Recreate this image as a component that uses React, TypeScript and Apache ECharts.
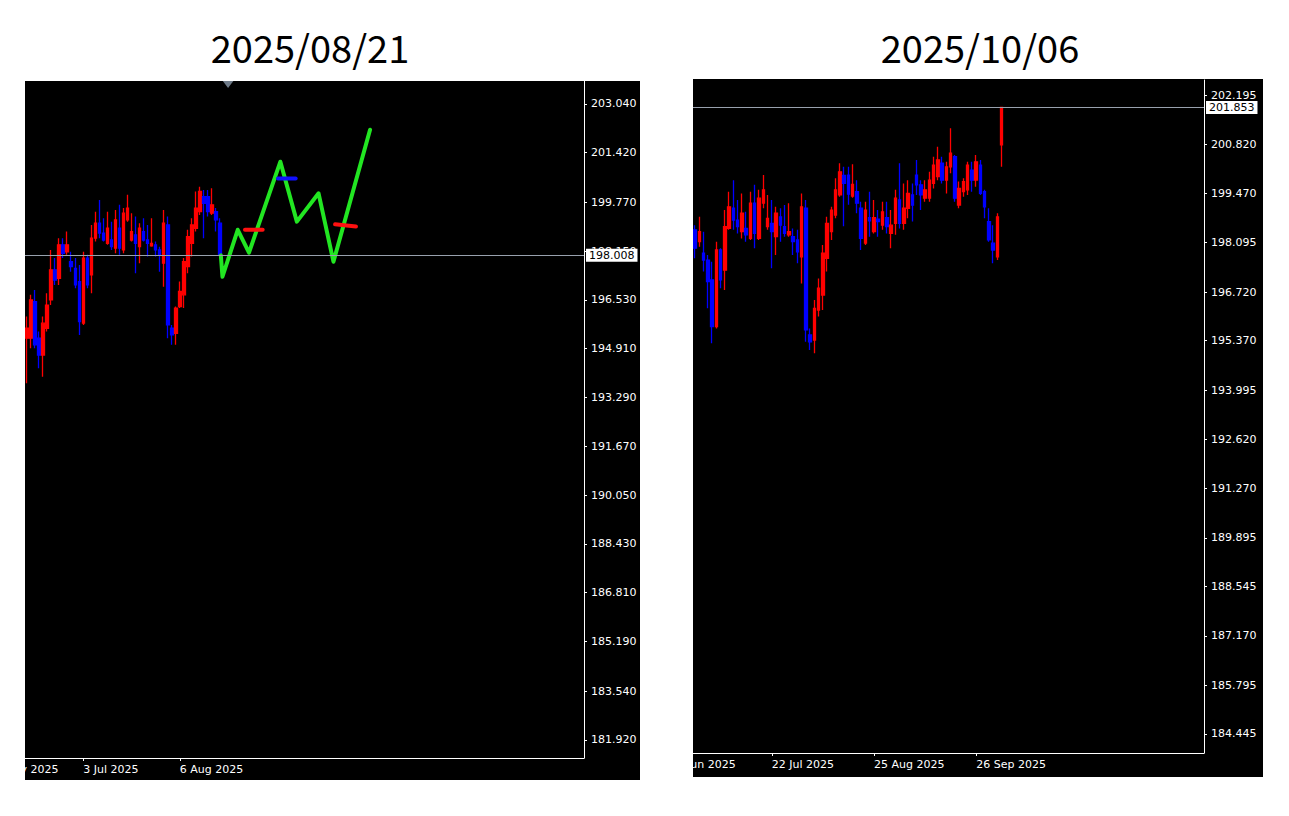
import React, { useEffect, useRef } from "react";
import * as echarts from "echarts";

// ---------------- DATA ----------------
const leftTitle = "2025/08/21";
const rightTitle = "2025/10/06";

const leftDates = [
  "2025-06-13","2025-06-16","2025-06-17","2025-06-18","2025-06-19","2025-06-20","2025-06-23","2025-06-24",
  "2025-06-25","2025-06-26","2025-06-27","2025-06-30","2025-07-01","2025-07-02","2025-07-03","2025-07-04",
  "2025-07-07","2025-07-08","2025-07-09","2025-07-10","2025-07-11","2025-07-14","2025-07-15","2025-07-16",
  "2025-07-17","2025-07-18","2025-07-21","2025-07-22","2025-07-23","2025-07-24","2025-07-25","2025-07-28",
  "2025-07-29","2025-07-30","2025-07-31","2025-08-01","2025-08-04","2025-08-05","2025-08-06","2025-08-07",
  "2025-08-08","2025-08-11","2025-08-12","2025-08-13","2025-08-14","2025-08-15","2025-08-18","2025-08-19",
  "2025-08-20",
];

// [open, close, low, high]
const leftOHLC = [
  [195.26,195.59,193.76,195.98],[195.26,196.53,194.93,196.70],[196.47,195.04,194.93,196.86],[195.26,194.70,194.26,195.48],
  [194.70,195.76,193.98,195.98],[195.59,196.36,195.48,196.75],[196.53,197.53,196.36,198.19],[197.53,197.19,197.03,197.92],
  [197.25,198.36,197.03,198.58],[198.36,198.08,197.92,198.58],[198.13,198.36,198.03,198.80],[197.80,197.64,197.47,198.13],
  [197.58,197.03,196.92,197.92],[197.14,195.81,195.37,197.69],[195.76,197.92,195.70,198.13],[197.92,197.03,196.92,198.03],
  [197.36,198.58,196.75,199.02],[198.58,199.08,198.47,199.46],[199.08,198.75,198.58,199.85],[198.75,198.52,198.47,199.24],
  [198.41,198.91,198.36,199.46],[198.52,198.30,198.19,199.13],[198.25,199.19,198.08,199.52],[198.91,198.25,198.03,199.69],
  [198.19,199.41,198.08,199.58],[199.19,199.58,199.13,200.02],[198.52,198.80,198.47,199.41],[198.69,198.41,197.42,199.30],
  [198.30,198.91,197.75,199.08],[198.80,198.52,198.47,199.24],[198.52,198.41,197.97,199.02],[198.33,198.41,198.30,199.24],
  [198.36,198.19,197.97,198.47],[198.19,198.03,197.47,198.30],[197.75,199.08,196.97,199.52],[199.02,195.70,195.26,199.30],
  [195.59,195.37,195.04,195.70],[195.42,196.26,195.04,196.31],[196.31,196.81,196.26,197.14],[196.70,197.80,196.26,197.92],
  [197.64,198.63,197.42,198.86],[198.41,199.02,197.97,199.24],[198.91,199.58,198.80,200.13],[199.46,200.13,199.35,200.29],
  [199.96,199.74,198.58,200.18],[199.96,199.46,199.30,200.18],[199.41,199.69,199.35,200.24],[199.46,199.19,198.80,199.58],
  [199.08,198.01,197.98,199.24],
];

// Projection drawn on the left chart: [bar position, price]
const leftProjection = [
  [48.2,198.01],[48.6,197.30],[52.4,198.86],[55.2,198.10],[63.0,201.12],
  [67.1,199.13],[72.5,200.07],[76.2,197.80],[85.3,202.18],
];
const leftRedLevels = [
  [[54.2,198.86],[58.6,198.86]],
  [[76.6,199.04],[81.8,198.97]],
];
const leftBlueLevel = [[62.4,200.56],[66.8,200.56]];
const leftMarker = [[50, 203.70]];

const leftPriceTicks = [203.04,201.42,199.77,198.15,196.53,194.91,193.29,191.67,190.05,188.43,186.81,185.19,183.54,181.92];
const leftDateTickIdx = [14, 38];
const leftEdgeLabel = { index: -10, date: "2025-05-30" };
const leftLastPrice = 198.008;

const rightDates = [
  "2025-06-26","2025-06-27","2025-06-30",
  "2025-07-01","2025-07-02","2025-07-03","2025-07-04","2025-07-07","2025-07-08","2025-07-09","2025-07-10",
  "2025-07-11","2025-07-14","2025-07-15","2025-07-16","2025-07-17","2025-07-18","2025-07-21","2025-07-22",
  "2025-07-23","2025-07-24","2025-07-25","2025-07-28","2025-07-29","2025-07-30","2025-07-31",
  "2025-08-01","2025-08-04","2025-08-05","2025-08-06","2025-08-07","2025-08-08","2025-08-11","2025-08-12",
  "2025-08-13","2025-08-14","2025-08-15","2025-08-18","2025-08-19","2025-08-20","2025-08-21","2025-08-22",
  "2025-08-25","2025-08-26","2025-08-27","2025-08-28","2025-08-29",
  "2025-09-01","2025-09-02","2025-09-03","2025-09-04","2025-09-05","2025-09-08","2025-09-09","2025-09-10",
  "2025-09-11","2025-09-12","2025-09-15","2025-09-16","2025-09-17","2025-09-18","2025-09-19","2025-09-22",
  "2025-09-23","2025-09-24","2025-09-25","2025-09-26","2025-09-29","2025-09-30",
  "2025-10-01","2025-10-02","2025-10-03","2025-10-06",
];

const rightOHLC = [
  [198.45,197.94,197.66,198.58],[198.12,198.40,197.98,198.81],[197.80,197.61,197.29,198.40],[197.61,197.01,196.27,197.75],
  [197.06,195.76,195.30,197.56],[195.76,197.89,195.71,198.12],[197.89,197.06,196.83,197.94],[197.33,198.54,196.78,199.00],
  [198.49,199.09,198.45,199.51],[199.05,198.72,198.45,199.83],[198.72,198.54,198.35,199.28],[198.40,198.91,198.21,199.46],
  [198.49,198.31,198.12,198.95],[198.21,199.19,198.17,199.51],[199.19,198.35,197.94,199.70],[198.21,199.33,198.17,199.56],
  [199.19,199.56,199.05,199.97],[198.54,198.77,198.45,199.42],[198.63,198.40,197.38,199.28],[198.26,198.91,197.75,199.09],
  [198.81,198.58,198.12,199.05],[198.54,198.35,198.26,199.14],[198.31,198.40,198.26,199.19],[198.26,198.12,197.75,198.49],
  [198.17,197.84,197.52,198.45],[197.70,199.09,196.96,199.46],[199.05,195.67,195.34,199.28],[195.53,195.34,195.11,195.71],
  [195.39,196.27,195.02,196.50],[196.22,196.83,196.04,197.10],[196.64,197.80,196.22,198.03],[197.66,198.63,197.29,198.81],
  [198.40,199.00,198.17,199.09],[198.86,199.56,198.77,199.88],[199.42,200.06,199.37,200.30],[199.96,199.74,198.55,200.20],
  [199.97,199.44,199.15,200.20],[199.39,199.71,199.34,200.27],[199.51,199.19,198.91,199.83],[199.05,198.21,197.89,199.23],
  [198.08,199.00,198.03,199.23],[198.79,198.70,198.26,199.51],[198.40,198.79,198.35,199.28],[198.75,198.68,198.26,199.00],
  [198.58,198.95,198.45,199.23],[198.79,198.54,198.35,199.23],[198.35,198.58,197.94,199.00],[198.63,199.33,198.31,199.56],
  [199.28,198.63,198.49,200.30],[198.63,199.05,198.45,199.74],[199.05,199.46,198.77,199.83],[199.42,199.14,198.68,199.74],
  [199.97,199.70,199.42,200.39],[199.70,199.42,199.00,199.83],[199.33,199.56,199.23,199.83],[199.33,199.83,199.23,200.06],
  [199.74,200.25,199.60,200.48],[199.93,200.39,199.83,200.76],[200.30,199.83,199.74,200.48],[199.83,200.20,199.46,200.34],
  [200.20,200.58,200.02,201.27],[200.48,199.33,199.23,200.53],[199.14,199.60,199.05,199.79],[199.51,199.79,199.37,199.88],
  [199.56,200.25,199.42,200.34],[200.11,199.83,199.51,200.34],[199.83,200.34,199.65,200.53],[200.25,199.46,199.42,200.39],
  [199.51,199.09,198.77,199.56],[198.68,198.17,198.12,199.05],[198.08,197.89,197.52,198.58],[197.70,198.81,197.61,198.91],
  [200.81,201.853,200.20,201.87],
];

const rightPriceTicks = [202.195,200.82,199.47,198.095,196.72,195.37,193.995,192.62,191.27,189.895,188.545,187.17,185.795,184.445];
const rightDateTickIdx = [18, 42, 66];
const rightEdgeLabel = { index: -6, date: "2025-06-18" };
const rightLastPrice = 201.853;

// ---------------- STYLE / LAYOUT ----------------
const MONTHS = ["Jan","Feb","Mar","Apr","May","Jun","Jul","Aug","Sep","Oct","Nov","Dec"];
const fmtDate = (s: string) => {
  if (!s) return "";
  const [y, m, d] = s.split("-");
  return `${parseInt(d, 10)} ${MONTHS[parseInt(m, 10) - 1]} ${y}`;
};
const AXIS_FONT = "DejaVu Sans";
const BULL = "#ff0000";
const BEAR = "#0000ff";
const PRICE_LINE = "#98a0ad";

type PanelCfg = {
  width: number;
  height: number;
  slots: number;
  dates: string[];
  ohlc: number[][];
  yMin: number;
  yMax: number;
  ticks: number[];
  dateTickIdx: number[];
  edge: { index: number; date: string };
  lastPrice: number;
  gridRight: number;
  gridBottom: number;
  gridTop: number;
  extra: any[];
};

function buildPanelOption(p: PanelCfg): any {
  const cats = p.dates.concat(new Array(p.slots - p.dates.length).fill(""));
  const show = (i: number) => p.dateTickIdx.indexOf(i) >= 0;
  return {
    animation: false,
    backgroundColor: "#000000",
    grid: { left: 0, right: p.gridRight, top: p.gridTop, bottom: p.gridBottom, containLabel: false },
    xAxis: [
      {
        type: "category",
        data: cats,
        boundaryGap: true,
        axisLine: { show: true, onZero: false, lineStyle: { color: "#ffffff", width: 1 } },
        axisTick: { show: true, alignWithLabel: true, length: 3, interval: (i: number) => show(i), lineStyle: { color: "#ffffff" } },
        axisLabel: {
          interval: (i: number) => show(i),
          formatter: (v: string) => fmtDate(v),
          color: "#ffffff",
          fontSize: 11,
          fontFamily: AXIS_FONT,
          align: "left",
          margin: 6,
        },
        splitLine: { show: false },
      },
      { type: "value", min: -0.5, max: p.slots - 0.5, show: false },
    ],
    yAxis: {
      type: "value",
      position: "right",
      min: p.yMin,
      max: p.yMax,
      axisLine: { show: true, onZero: false, lineStyle: { color: "#ffffff", width: 1 } },
      axisTick: { show: true, length: 3, customValues: p.ticks, lineStyle: { color: "#ffffff" } },
      axisLabel: {
        customValues: p.ticks,
        formatter: (v: number) => v.toFixed(3),
        color: "#ffffff",
        fontSize: 11,
        fontFamily: AXIS_FONT,
        margin: 7,
      },
      splitLine: { show: false },
    },
    series: [
      {
        type: "candlestick",
        xAxisIndex: 0,
        yAxisIndex: 0,
        data: p.ohlc,
        barWidth: 3,
        barMinWidth: 3,
        itemStyle: { color: BULL, color0: BEAR, borderColor: BULL, borderColor0: BEAR, borderWidth: 1.3 },
        markLine: {
          silent: true,
          symbol: ["none", "none"],
          z: 10,
          lineStyle: { color: PRICE_LINE, width: 1, type: "solid" },
          label: {
            show: true,
            position: "end",
            distance: 2,
            formatter: () => p.lastPrice.toFixed(3),
            color: "#000000",
            backgroundColor: "#ffffff",
            padding: [1, 3, 1, 3],
            fontSize: 11,
            fontFamily: AXIS_FONT,
          },
          data: [{ yAxis: p.lastPrice }],
        },
      },
      ...p.extra,
    ],
  };
}

function addEdgeLabel(chart: any, p: PanelCfg) {
  const px = chart.convertToPixel({ xAxisIndex: 1 }, p.edge.index);
  chart.setOption({
    graphic: [
      {
        type: "text",
        x: px,
        y: p.height - p.gridBottom + 6,
        style: {
          text: fmtDate(p.edge.date),
          fill: "#ffffff",
          font: `11px "${AXIS_FONT}"`,
          textAlign: "left",
          textVerticalAlign: "top",
        },
      },
    ],
  });
}

const leftExtra = [
  {
    type: "line",
    xAxisIndex: 1,
    yAxisIndex: 0,
    data: leftProjection,
    symbol: "none",
    z: 5,
    lineStyle: { color: "#22e622", width: 4, join: "round", cap: "round" },
  },
  ...leftRedLevels.map((seg) => ({
    type: "line",
    xAxisIndex: 1,
    yAxisIndex: 0,
    data: seg,
    symbol: "none",
    z: 6,
    lineStyle: { color: "#ff1010", width: 4, cap: "round" },
  })),
  {
    type: "line",
    xAxisIndex: 1,
    yAxisIndex: 0,
    data: leftBlueLevel,
    symbol: "none",
    z: 6,
    lineStyle: { color: "#1010ff", width: 4, cap: "round" },
  },
  {
    type: "scatter",
    xAxisIndex: 1,
    yAxisIndex: 0,
    data: leftMarker,
    symbol: "triangle",
    symbolRotate: 180,
    symbolSize: [12, 8],
    itemStyle: { color: "#8a98aa" },
  },
];

const leftCfg: PanelCfg = {
  width: 615,
  height: 699,
  slots: 139,
  dates: leftDates,
  ohlc: leftOHLC,
  yMin: 181.32,
  yMax: 203.8,
  ticks: leftPriceTicks,
  dateTickIdx: leftDateTickIdx,
  edge: leftEdgeLabel,
  lastPrice: leftLastPrice,
  gridRight: 56,
  gridBottom: 22,
  gridTop: 0,
  extra: leftExtra,
};

const rightCfg: PanelCfg = {
  width: 570,
  height: 698,
  slots: 120,
  dates: rightDates,
  ohlc: rightOHLC,
  yMin: 183.917,
  yMax: 202.612,
  ticks: rightPriceTicks,
  dateTickIdx: rightDateTickIdx,
  edge: rightEdgeLabel,
  lastPrice: rightLastPrice,
  gridRight: 59,
  gridBottom: 24,
  gridTop: 1,
  extra: [],
};

function Panel({ cfg, left, top }: { cfg: PanelCfg; left: number; top: number }) {
  const ref = useRef<HTMLDivElement>(null);
  useEffect(() => {
    const chart = echarts.init(ref.current as HTMLDivElement, undefined, { renderer: "svg" });
    chart.setOption(buildPanelOption(cfg));
    addEdgeLabel(chart, cfg);
    return () => chart.dispose();
  }, []);
  return (
    <div
      ref={ref}
      style={{ position: "absolute", left, top, width: cfg.width, height: cfg.height, overflow: "hidden", zIndex: 2 }}
    />
  );
}

function Titles() {
  const ref = useRef<HTMLDivElement>(null);
  useEffect(() => {
    const chart = echarts.init(ref.current as HTMLDivElement, undefined, { renderer: "svg" });
    const titleStyle = (text: string) => ({
      text,
      fill: "#000000",
      font: `38px "Noto Sans CJK JP"`,
      textAlign: "center",
      textVerticalAlign: "middle",
    });
    chart.setOption({
      animation: false,
      backgroundColor: "#ffffff",
      graphic: [
        { type: "text", x: 310, y: 46, style: titleStyle(leftTitle) },
        { type: "text", x: 980, y: 46, style: titleStyle(rightTitle) },
      ],
    });
    return () => chart.dispose();
  }, []);
  return <div ref={ref} style={{ position: "absolute", left: 0, top: 0, width: 1289, height: 816, zIndex: 1 }} />;
}

export default function App() {
  return (
    <div style={{ position: "fixed", left: 0, top: 0, width: 1289, height: 816, background: "#ffffff", overflow: "hidden" }}>
      <Titles />
      <Panel cfg={leftCfg} left={25} top={81} />
      <Panel cfg={rightCfg} left={693} top={79} />
    </div>
  );
}
